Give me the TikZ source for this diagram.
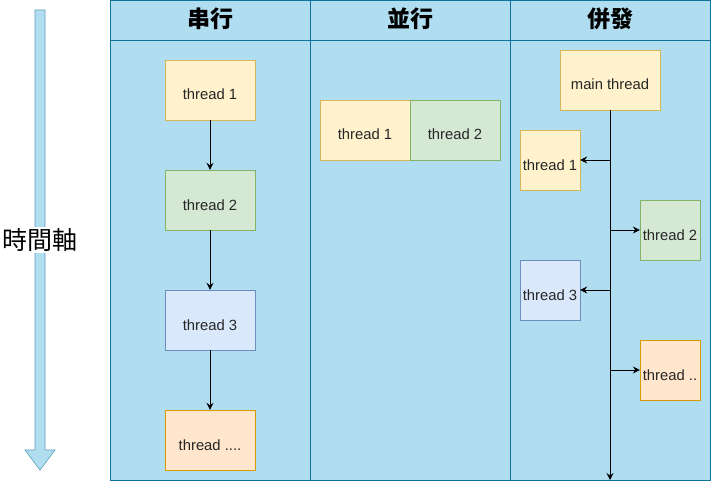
\documentclass[tikz,border=0pt]{standalone}
\usepackage{fontspec}
\setmainfont{Liberation Sans}
\newfontfamily\cjk{Noto Sans CJK TC}
\usetikzlibrary{arrows.meta, positioning}
\definecolor{lanefill}{HTML}{B1DDF0}
\definecolor{laneline}{HTML}{10739E}
\definecolor{yfill}{HTML}{FFF2CC}
\definecolor{yline}{HTML}{D6B656}
\definecolor{gfill}{HTML}{D5E8D4}
\definecolor{gline}{HTML}{82B366}
\definecolor{bfill}{HTML}{DAE8FC}
\definecolor{bline}{HTML}{6C8EBF}
\definecolor{ofill}{HTML}{FFE6CC}
\definecolor{oline}{HTML}{D79B00}

\begin{document}
\begin{tikzpicture}[
    x=1pt, y=-1pt,
    lane/.style={draw=laneline, fill=lanefill, line width=0.9pt},
    header/.style={font=\cjk\bfseries\fontsize{23}{26}\selectfont},
    thread/.style={draw, minimum width=90pt, minimum height=60pt, inner sep=0pt,
        text height=20pt, text depth=0pt,
        text=black!85, font=\fontsize{14.8}{17}\selectfont},
    small/.style={thread, minimum width=60pt},
    yel/.style={fill=yfill, draw=yline},
    grn/.style={fill=gfill, draw=gline},
    blu/.style={fill=bfill, draw=bline},
    org/.style={fill=ofill, draw=oline},
    flow/.style={-{Stealth[length=7pt, width=7pt, inset=2.5pt]}, line width=0.8pt}
]
    \useasboundingbox (0,0) rectangle (711,489);

    % Time axis
    \draw[draw=laneline!70, fill=lanefill, line width=0.6pt]
        (35,10) -- (45,10) -- (45,450) -- (55,450) -- (40,470) -- (25,450) -- (35,450) -- cycle;
    \node[fill=white, inner sep=1pt, font=\cjk\fontsize{25}{28}\selectfont] (axis) at (40,240) {時間軸};

    % Lanes
    \foreach \x/\title [count=\i] in {110/串行, 310/並行, 510/併發} {
        \draw[lane] (\x,40) rectangle (\x+200,480);
        \draw[lane] (\x,0) rectangle (\x+200,40);
        \node[header] (head\i) at (\x+100,19) {\title};
    }

    % Serial
    \node[thread, yel] (s1) at (210,90) {thread 1};
    \node[thread, grn] (s2) at (210,200) {thread 2};
    \node[thread, blu] (s3) at (210,320) {thread 3};
    \node[thread, org] (s4) at (210,440) {thread ....};
    \draw[flow] (s1) -- (s2);
    \draw[flow] (s2) -- (s3);
    \draw[flow] (s3) -- (s4);

    % Parallel
    \node[thread, yel] (p1) at (365,130) {thread 1};
    \node[thread, grn] (p2) at (455,130) {thread 2};

    % Concurrent
    \node[thread, yel, minimum width=100pt] (main) at (610,80) {main thread};
    \node[small, yel] (c1) at (550,160) {thread 1};
    \node[small, grn] (c2) at (670,230) {thread 2};
    \node[small, blu] (c3) at (550,290) {thread 3};
    \node[small, org] (c4) at (670,370) {thread ..};
    \coordinate (mainend) at (610,480);
    \draw[flow] (main) -- (mainend);
    \foreach \c in {c1, c2, c3, c4} {
        \draw[flow] (main.south |- \c) -- (\c);
    }
\end{tikzpicture}
\end{document}
